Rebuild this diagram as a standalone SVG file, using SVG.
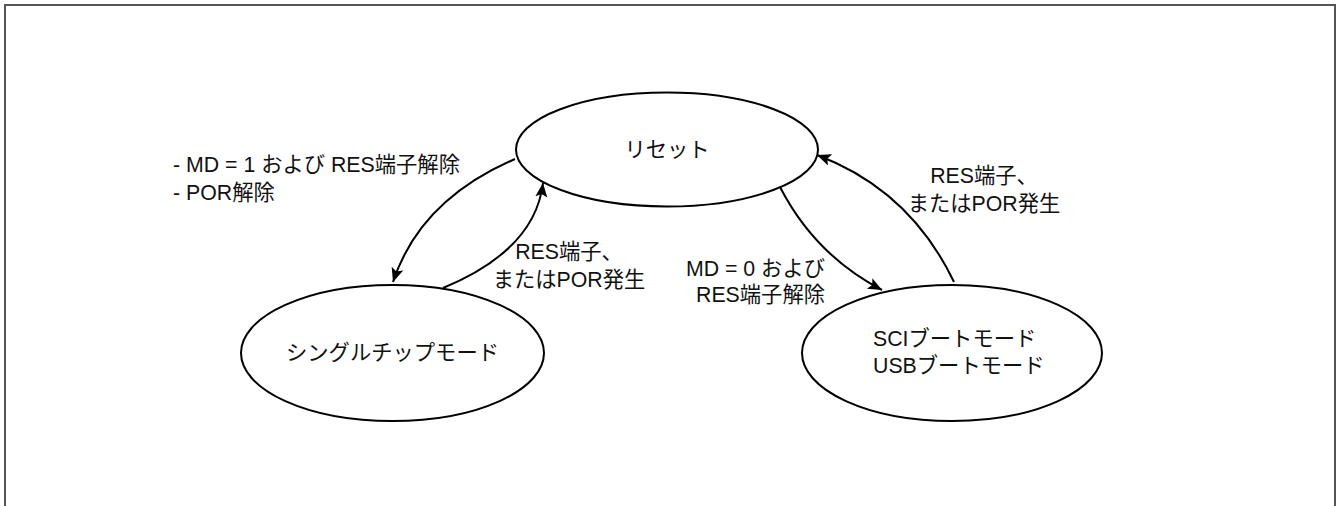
<svg xmlns="http://www.w3.org/2000/svg" width="1339" height="506" viewBox="0 0 1339 506">
<style>
.node{fill:#fff;stroke:#000;stroke-width:2}
.t{font-family:"Liberation Sans","Noto Sans CJK JP",sans-serif;font-size:21.3px;fill:#111}
.m{text-anchor:middle}
.e{text-anchor:end}
.edge{fill:none;stroke:#000;stroke-width:2}
</style>
<defs>
<marker id="arr" markerUnits="userSpaceOnUse" markerWidth="16" markerHeight="14" refX="14" refY="6" orient="auto" viewBox="0 0 16 14">
<path d="M0,0 L14,6 L0,12 L3,6 Z" fill="#000"/>
</marker>
</defs>
<rect x="5" y="5" width="1330" height="620" fill="#fff" stroke="#555" stroke-width="2"/>
<g id="reset">
<ellipse class="node" cx="667" cy="149.5" rx="151" ry="57"/>
<text class="t m" x="667" y="157">リセット</text>
</g>
<g id="single">
<ellipse class="node" cx="392.5" cy="353" rx="151.5" ry="68"/>
<text class="t m" x="392.5" y="360">シングルチップモード</text>
</g>
<g id="boot">
<ellipse class="node" cx="952" cy="353" rx="150" ry="68"/>
<text class="t" x="873" y="346">SCIブートモード</text>
<text class="t" x="873" y="373">USBブートモード</text>
</g>
<g id="connectors">
<path class="edge" d="M515,159 Q420,200 393,282" marker-end="url(#arr)"/>
<path class="edge" d="M443,288 Q535,250 543,183" marker-end="url(#arr)"/>
<path class="edge" d="M780,187 Q815,255 882,290" marker-end="url(#arr)"/>
<path class="edge" d="M954,282 Q910,190 817,155" marker-end="url(#arr)"/>
</g>
<g id="labels">
<text class="t" x="173" y="172">- MD = 1 および RES端子解除</text>
<text class="t" x="173" y="200">- POR解除</text>
<text class="t m" x="569" y="259">RES端子、</text>
<text class="t m" x="569" y="287">またはPOR発生</text>
<text class="t m" x="984" y="183">RES端子、</text>
<text class="t m" x="984" y="211">またはPOR発生</text>
<text class="t e" x="825" y="276">MD = 0 および</text>
<text class="t e" x="825" y="302">RES端子解除</text>
</g>
</svg>
